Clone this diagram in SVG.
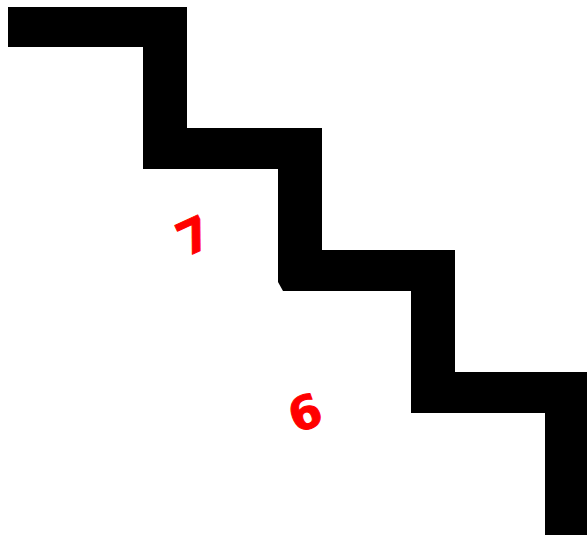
<svg xmlns="http://www.w3.org/2000/svg" width="587" height="535" viewBox="0 0 587 535">
<style>
.lbl{font-family:"DejaVu Sans","Liberation Sans",sans-serif;font-weight:bold;font-size:46px;fill:#ff0000;stroke:#ff0000;stroke-width:1;stroke-linejoin:round;text-anchor:middle}
</style>
<rect width="587" height="535" fill="#ffffff"/>
<g id="stairs">
<polygon points="8,7 187,7 187,128 322,128 322,250 455,250 455,372 587,372 587,535 545,535 545,413 411,413 411,291 283,291 278,282 278,169 143,169 143,47 8,47" fill="#000000"/>
</g>
<g id="label-7"><text class="lbl" transform="translate(194,236) rotate(-25)" y="16">7</text></g>
<g id="label-6"><text class="lbl" transform="translate(305,413) rotate(-20)" y="16">6</text></g>
</svg>
